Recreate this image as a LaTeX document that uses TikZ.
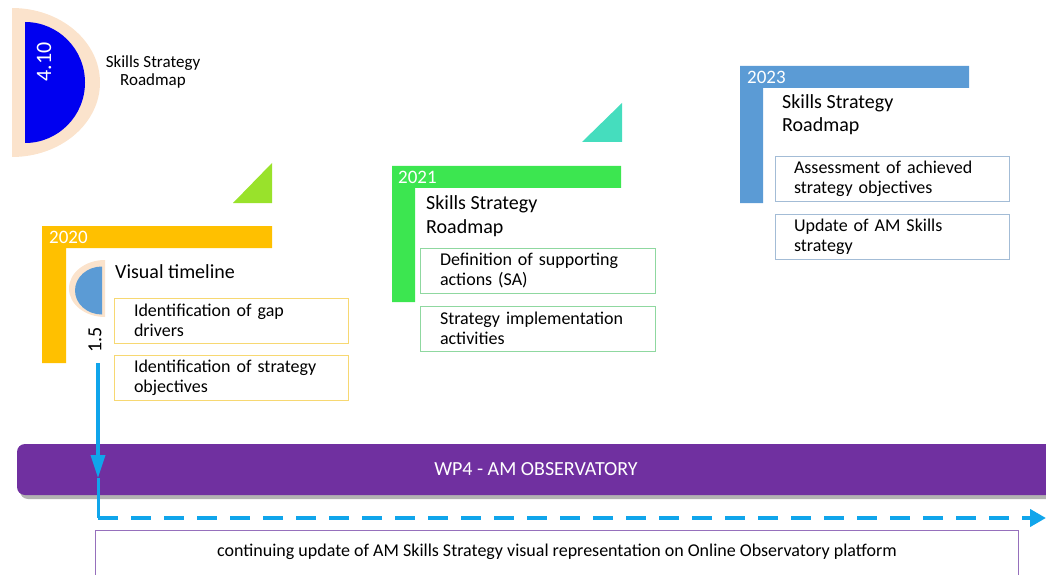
\documentclass[tikz,border=0pt]{standalone}
\usepackage{fontspec}
\setmainfont{Carlito}
\usetikzlibrary{arrows.meta}
\definecolor{peach}{HTML}{FBE3CC}
\definecolor{deepblue}{HTML}{0000F0}
\definecolor{lime}{HTML}{99E22B}
\definecolor{orangeL}{HTML}{FFC000}
\definecolor{yellowbox}{HTML}{F7D872}
\definecolor{teal}{HTML}{45DDBE}
\definecolor{greenL}{HTML}{3CE650}
\definecolor{greenbox}{HTML}{8FD8A0}
\definecolor{blueL}{HTML}{5B9BD5}
\definecolor{bluebox}{HTML}{A3BCD6}
\definecolor{purplebar}{HTML}{7030A0}
\definecolor{purplebox}{HTML}{9670BC}
\definecolor{flowblue}{HTML}{10A5EB}
\begin{document}
\begin{tikzpicture}[x=1pt,y=1pt,
  boxbase/.style={draw, line width=1pt, minimum height=45pt, inner ysep=0pt,
    align=left, font=\fontsize{18}{20}\selectfont},
  box2020/.style={boxbase, draw=yellowbox, inner xsep=20pt, text width=194pt},
  box2021/.style={boxbase, draw=greenbox, inner xsep=20pt, text width=195pt},
  box2023/.style={boxbase, draw=bluebox, inner xsep=19pt, text width=196pt},
  heading/.style={anchor=base west, inner sep=0pt, align=left, font=\fontsize{20}{23}\selectfont},
  year/.style={anchor=west, inner sep=0pt, text=white, font=\fontsize{19}{19}\selectfont},
  flow/.style={draw=flowblue, line width=3.5pt}
]
\useasboundingbox (0,0) rectangle (1046,574);
\clip (0,0) rectangle (1046,574);

% top-left half disc
\fill[peach] (12,566) arc[start angle=90, end angle=-90, x radius=88pt, y radius=74.5pt] -- cycle;
\fill[deepblue] (25,552) arc[start angle=90, end angle=-90, x radius=60pt, y radius=60.5pt] -- cycle;
\node[rotate=90, text=white, inner sep=0pt, font=\fontsize{22}{22}\selectfont] (num410) at (44,512) {4.10};
\node[align=center, inner sep=0pt, font=\fontsize{17}{18.5}\selectfont] (ssr0) at (153,502) {Skills Strategy\\Roadmap};

% 2020
\fill[lime] (233,371) -- (272,371) -- (272,411) -- cycle;
\fill[orangeL] (42,348) -- (272,348) -- (272,326) -- (66,326) -- (66,211) -- (42,211) -- cycle;
\node[year] (y2020) at (49,336.5) {2020};
\fill[peach] (105,314) arc[start angle=90, end angle=270, x radius=36pt, y radius=28.5pt] -- cycle;
\fill[blueL] (102,307.5) arc[start angle=90, end angle=270, x radius=27pt, y radius=24pt] -- cycle;
\node[rotate=90, inner sep=0pt, font=\fontsize{20}{20}\selectfont] (num15) at (95,234) {1.5};
\node[heading] (vt) at (115,296) {Visual timeline};
\node[box2020] (b1) at (231,253.5) {Identification of gap\\drivers};
\node[box2020] (b2) at (231,196) {Identification of strategy\\objectives};

% 2021
\fill[teal] (582,432) -- (622,432) -- (622,471) -- cycle;
\fill[greenL] (392,408) -- (621,408) -- (621,386) -- (415,386) -- (415,272) -- (392,272) -- cycle;
\node[year] (y2021) at (398,397) {2021};
\node[heading] (ssr1) at (426,341) {Skills Strategy\\Roadmap};
\node[box2021] (c1) at (537.5,303) {Definition of supporting\\actions (SA)};
\node[box2021] (c2) at (537.5,245.5) {Strategy implementation\\activities};

% 2023
\fill[blueL] (740,508) -- (969,508) -- (969,486) -- (763,486) -- (763,371) -- (740,371) -- cycle;
\node[year] (y2023) at (747,497) {2023};
\node[heading] (ssr2) at (782,442) {Skills Strategy\\Roadmap};
\node[box2023] (d1) at (892,395) {Assessment of achieved\\strategy objectives};
\node[box2023] (d2) at (892,337.5) {Update of AM Skills\\strategy};

% WP4 bar
\fill[black, opacity=0.3, rounded corners=8pt] (20,75) rectangle (1058,127);
\node[fill=purplebar, rounded corners=8pt, minimum width=1038pt, minimum height=51pt,
      text=white, font=\fontsize{20}{20}\selectfont] (wp4) at (536,104.5) {WP4 - AM OBSERVATORY};

% flow arrows
\coordinate (vtop) at (98,211);
\coordinate (vtip) at (98,96);
\coordinate (dstart) at (98,56);
\coordinate (dend) at (1046,56);
\draw[flow, -{Triangle[length=23pt,width=14pt]}] (vtop) -- (vtip);
\draw[flow, line width=3pt] (vtip) -- (dstart);
\draw[flow, line width=4.5pt, dash pattern=on 20pt off 13pt, -{Triangle[length=16pt,width=17pt]}] (dstart) -- (dend);

% bottom box
\node[draw=purplebox, line width=0.8pt, minimum width=923pt, minimum height=60pt, inner sep=0pt] (cont) at (556.5,14) {};
\node[inner sep=0pt, font=\fontsize{18}{18}\selectfont] (contlabel) at (557,22) {continuing update of AM Skills Strategy visual representation on Online Observatory platform};
\end{tikzpicture}
\end{document}
